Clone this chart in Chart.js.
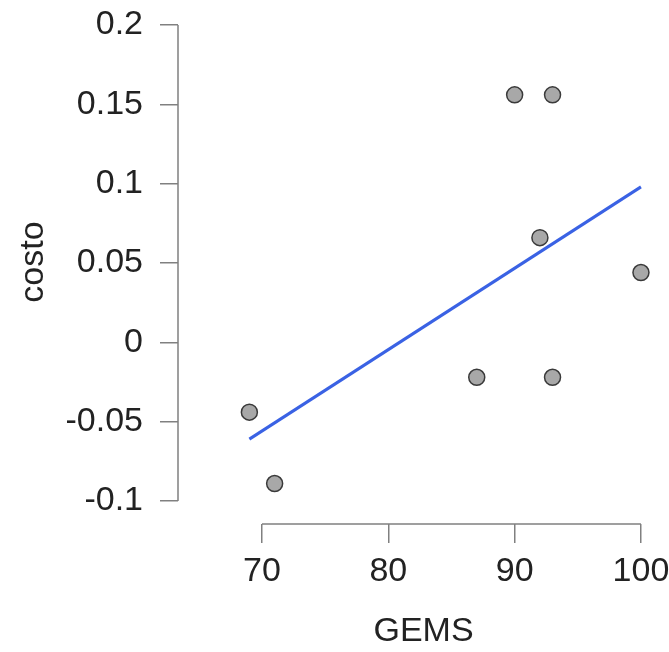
<!DOCTYPE html>
<html>
<head>
<meta charset="utf-8">
<script src="https://cdn.jsdelivr.net/npm/chart.js@4"></script>
<style>
  html, body { margin: 0; padding: 0; background: #fff; overflow: hidden; }
</style>
</head>
<body>
<canvas id="zeChart" width="669" height="652"></canvas>
<script>
// values
var gems  = [69, 71, 87, 93, 90, 93, 92, 100];
var costo = [-0.044, -0.089, -0.022, -0.022, 0.156, 0.156, 0.066, 0.044];
// ends of the fitted line
var fitX = [69, 100];
var fitY = [-0.061, 0.098];
var xTicks = [70, 80, 90, 100];
var yTicks = [-0.1, -0.05, 0, 0.05, 0.1, 0.15, 0.2];
var yTickLabels = ['-0.1', '-0.05', '0', '0.05', '0.1', '0.15', '0.2'];

var axisColor = '#808080';
var textColor = '#222222';
var fontFamily = '"Liberation Sans", Arial, sans-serif';

Chart.defaults.font.family = fontFamily;
Chart.defaults.color = textColor;

// separated axis lines, only between first and last tick
const axisLines = {
    id: 'axisLines',
    beforeDatasetsDraw: (chart) => {
        const { ctx, chartArea } = chart;
        const x = chart.scales.x, y = chart.scales.y;
        ctx.save();
        ctx.strokeStyle = axisColor;
        ctx.lineWidth = 1.5;
        ctx.beginPath();
        ctx.moveTo(x.getPixelForValue(xTicks[0]), chartArea.bottom);
        ctx.lineTo(x.getPixelForValue(xTicks[xTicks.length - 1]), chartArea.bottom);
        ctx.moveTo(chartArea.left, y.getPixelForValue(yTicks[0]));
        ctx.lineTo(chartArea.left, y.getPixelForValue(yTicks[yTicks.length - 1]));
        ctx.stroke();
        ctx.restore();
    }
};

var points = gems.map(function (g, i) { return { x: g, y: costo[i] }; });
var fitLine = fitX.map(function (g, i) { return { x: g, y: fitY[i] }; });

var config = {
    type: 'scatter',
    data: {
        datasets: [
            {
                label: 'costo',
                data: points,
                order: 0,
                pointRadius: 8,
                pointBackgroundColor: '#a8a8a8',
                pointBorderColor: '#3a3a3a',
                pointBorderWidth: 1.5,
            },
            {
                type: 'line',
                label: 'fit',
                data: fitLine,
                order: 1,
                borderColor: '#3a62e4',
                borderWidth: 3,
                pointRadius: 0,
                fill: false,
            },
        ],
    },
    options: {
        responsive: false,
        animation: false,
        layout: { padding: 0, autoPadding: false },
        plugins: {
            legend: { display: false },
            tooltip: { enabled: false },
        },
        scales: {
            x: {
                type: 'linear',
                min: 63.35,
                max: 102.22,
                afterBuildTicks: (scale) => { scale.ticks = xTicks.map(v => ({ value: v })); },
                afterFit: (scale) => { scale.height = 128; scale.paddingLeft = 0; scale.paddingRight = 0; },
                grid: { drawOnChartArea: false, drawTicks: true, tickLength: 19, color: axisColor, lineWidth: 1.5 },
                border: { display: false },
                ticks: {
                    padding: 8,
                    maxRotation: 0,
                    autoSkip: false,
                    font: { size: 34 },
                    color: textColor,
                    callback: (v) => String(v),
                },
                title: {
                    display: true,
                    text: 'GEMS',
                    font: { size: 34 },
                    color: textColor,
                    padding: { top: 0, bottom: 0 },
                },
            },
            y: {
                type: 'linear',
                min: -0.1145,
                max: 0.2158,
                afterBuildTicks: (scale) => { scale.ticks = yTicks.map(v => ({ value: v })); },
                afterFit: (scale) => { scale.width = 178; scale.paddingTop = 0; scale.paddingBottom = 0; },
                grid: { drawOnChartArea: false, drawTicks: true, tickLength: 18, color: axisColor, lineWidth: 1.5 },
                border: { display: false },
                ticks: {
                    padding: 17,
                    autoSkip: false,
                    font: { size: 34 },
                    color: textColor,
                    callback: (v, i) => yTickLabels[i],
                },
                title: {
                    display: true,
                    text: 'costo',
                    font: { size: 34 },
                    color: textColor,
                    padding: { top: 13, bottom: 0 },
                },
            },
        },
    },
    plugins: [axisLines],
};

let zeChart = new Chart(document.getElementById('zeChart'), config);
</script>
</body>
</html>
